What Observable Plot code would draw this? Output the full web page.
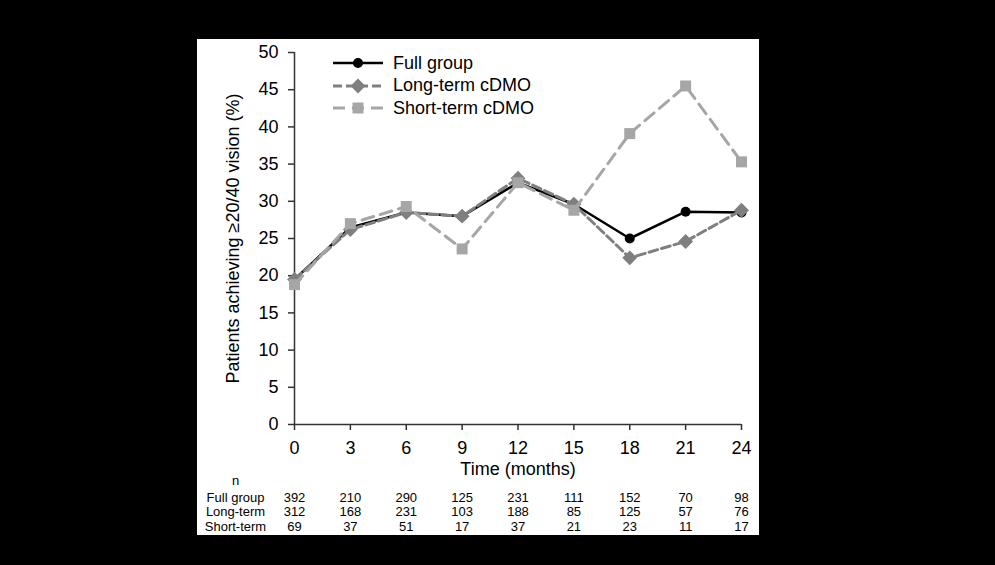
<!DOCTYPE html>
<html><head><meta charset="utf-8">
<script src="https://cdn.jsdelivr.net/npm/d3@7"></script>
<script src="https://cdn.jsdelivr.net/npm/@observablehq/plot@0.6"></script>
<style>
html,body{margin:0;padding:0;background:#000;width:995px;height:565px;overflow:hidden;}
#panel{position:absolute;left:197px;top:39px;width:562px;height:496px;background:#fff;}
#chart{position:absolute;left:0;top:0;}
#legend{position:absolute;left:333px;top:52px;font:18px "Liberation Sans",Arial,sans-serif;color:#000;}
.lrow{height:22.5px;display:flex;align-items:center;white-space:nowrap;}
.lrow svg{margin-right:10px;}
</style></head><body>
<div id="panel"></div><div id="chart"></div><div id="legend"></div>
<script>
const months = [0, 3, 6, 9, 12, 15, 18, 21, 24];
const fullGroup = [19.5, 26.5, 28.5, 28.0, 32.5, 29.6, 25.0, 28.6, 28.5];
const longTerm  = [19.5, 26.2, 28.5, 28.0, 33.1, 29.6, 22.4, 24.6, 28.8];
const shortTerm = [18.8, 27.0, 29.3, 23.6, 32.5, 28.8, 39.1, 45.5, 35.3];
const nFull  = [392, 210, 290, 125, 231, 111, 152, 70, 98];
const nLong  = [312, 168, 231, 103, 188, 85, 125, 57, 76];
const nShort = [69, 37, 51, 17, 37, 21, 23, 11, 17];
const seriesNames = ["Full group", "Long-term cDMO", "Short-term cDMO"];
const rowLabels = ["Full group", "Long-term", "Short-term"];
const yTicks = [0, 5, 10, 15, 20, 25, 30, 35, 40, 45, 50];

const font = '"Liberation Sans", Arial, sans-serif';
const styles = [
  {stroke: "#000", width: 2.5, dash: null, fill: "#000", symbol: "circle", r: 5},
  {stroke: "#7f7f7f", width: 3, dash: "9,4", fill: "#7f7f7f", symbol: "diamond2", r: 6.7},
  {stroke: "#a6a6a6", width: 3, dash: "12,7", fill: "#a6a6a6", symbol: "square", r: 6.2}
];
const seriesVals = [fullGroup, longTerm, shortTerm];
const nRows = [nFull, nLong, nShort];
const rowDy = [73, 87.5, 102];

const marks = [
  Plot.ruleX([0], {y1: 0, y2: 50, stroke: "#333", strokeWidth: 1.5}),
  Plot.ruleY([0], {x1: 0, x2: 24, stroke: "#333", strokeWidth: 1.5}),
  Plot.axisY({ticks: yTicks, tickSize: 6, tickPadding: 10, fontSize: 18, label: null, stroke: "#333", strokeWidth: 1.5}),
  Plot.axisX({ticks: months, tickSize: 6, tickPadding: 11, fontSize: 18, label: null, stroke: "#333", strokeWidth: 1.5}),
  Plot.text(["Time (months)"], {frameAnchor: "bottom", dy: 50, fontSize: 18, fill: "#000"}),
  Plot.text(["Patients achieving \u226520/40 vision (%)"], {frameAnchor: "left", textAnchor: "middle", rotate: -90, dx: -61, fontSize: 18, fill: "#000"}),
  Plot.text(["n"], {x: () => 0, y: () => 0, dx: -59, dy: 56, fontSize: 13, fill: "#000"})
];
seriesVals.forEach((vals, k) => {
  const st = styles[k];
  const data = months.map((m, i) => ({m, v: vals[i], series: seriesNames[k]}));
  marks.push(Plot.line(data, {x: "m", y: "v", stroke: st.stroke, strokeWidth: st.width, strokeDasharray: st.dash, strokeLinejoin: "miter"}));
  marks.push(Plot.dot(data, {x: "m", y: "v", fill: st.fill, symbol: st.symbol, r: st.r, stroke: "none"}));
});
nRows.forEach((row, k) => {
  marks.push(Plot.text([rowLabels[k]], {x: () => 0, y: () => 0, dx: -59, dy: rowDy[k], fontSize: 13, fill: "#000"}));
  marks.push(Plot.text(months, {x: d => d, y: () => 0, text: (d, i) => String(row[i]), dy: rowDy[k], fontSize: 13, fill: "#000"}));
});

const chart = Plot.plot({
  width: 995, height: 565,
  marginLeft: 294, marginRight: 254, marginTop: 52, marginBottom: 141,
  style: {background: "transparent", fontFamily: font, color: "#000", overflow: "visible"},
  x: {domain: [0, 24]},
  y: {domain: [0, 50]},
  marks
});
document.getElementById("chart").appendChild(chart);

// legend
const legend = d3.select("#legend");
styles.forEach((st, k) => {
  const row = legend.append("div").attr("class", "lrow");
  const svg = row.append("svg").attr("width", 50).attr("height", 22);
  svg.append("line").attr("x1", 0).attr("x2", 50).attr("y1", 11).attr("y2", 11)
    .attr("stroke", st.stroke).attr("stroke-width", st.width).attr("stroke-dasharray", st.dash);
  const sym = {circle: d3.symbolCircle, diamond2: d3.symbolDiamond2, square: d3.symbolSquare}[st.symbol];
  svg.append("path").attr("transform", "translate(25,11)")
    .attr("d", d3.symbol(sym, Math.PI * st.r * st.r)()).attr("fill", st.fill);
  row.append("span").text(seriesNames[k]);
});
</script>
</body></html>
